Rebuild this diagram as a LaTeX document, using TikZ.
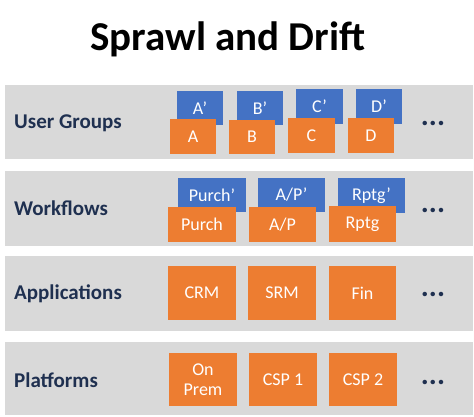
\documentclass[tikz,border=0pt]{standalone}
\usepackage{fontspec}
\setmainfont{Carlito}
\definecolor{band}{HTML}{D9D9D9}
\definecolor{bblue}{HTML}{4472C4}
\definecolor{borange}{HTML}{ED7D31}
\definecolor{navy}{HTML}{1F3050}
\begin{document}
\begin{tikzpicture}[x=1pt,y=-1pt,
  bandbox/.style={fill=band,draw=none},
  lbl/.style={anchor=west,inner sep=0pt,text=navy,font=\fontsize{21}{23}\selectfont\bfseries},
  bluebox/.style={fill=bblue,draw=none,text=white,font=\fontsize{18}{19}\selectfont,inner sep=0pt},
  orabox/.style={fill=borange,draw=none,text=white,font=\fontsize{18}{20}\selectfont,inner sep=0pt,align=center},
  dots/.style={text=navy,font=\fontsize{30}{30}\selectfont\bfseries,inner sep=0pt,anchor=base}
]
\useasboundingbox (0,0) rectangle (474,417);
\fill[white] (0,0) rectangle (474,417);
\node[font=\fontsize{41}{44}\selectfont\bfseries,inner sep=0pt] (title) at (228,39) {Sprawl and Drift};

% bands
\fill[bandbox] (5,85) rectangle (473,159);
\fill[bandbox] (5,171) rectangle (473,246);
\fill[bandbox] (5,256) rectangle (473,331);
\fill[bandbox] (5,342) rectangle (473,415);

\node[lbl] (l1) at (14,123) {User Groups};
\node[lbl] (l2) at (14,208) {Workflows};
\node[lbl] (l3) at (14,294) {Applications};
\node[lbl] (l4) at (14,380) {Platforms};

\newcommand{\mybox}[6]{\path[#1] (#2,#3) rectangle (#4,#5) node[pos=.5,#1,fill=none] {#6};}
% User groups
\mybox{bluebox}{177}{91}{223}{125}{A\char"2019}
\mybox{bluebox}{237}{91}{283}{125}{B\char"2019}
\mybox{bluebox}{296}{89}{343}{124}{C\char"2019}
\mybox{bluebox}{356}{89}{402}{124}{D\char"2019}
\mybox{orabox}{170}{119}{216}{154}{A}
\mybox{orabox}{229}{120}{275}{154}{B}
\mybox{orabox}{288}{118}{335}{153}{C}
\mybox{orabox}{348}{118}{394}{153}{D}
\node[dots] (d1) at (433,126) {...};

% Workflows
\mybox{bluebox}{178}{178}{246}{212}{Purch\char"2019}
\mybox{bluebox}{258}{178}{325}{212}{A/P\char"2019}
\mybox{bluebox}{338}{178}{405}{213}{Rptg\char"2019}
\mybox{orabox}{168}{207}{236}{242}{Purch}
\mybox{orabox}{249}{207}{316}{242}{A/P}
\mybox{orabox}{329}{206}{396}{242}{Rptg}
\node[dots] (d2) at (433,212) {...};

% Applications
\mybox{orabox}{168}{266}{236}{320}{CRM}
\mybox{orabox}{248}{266}{316}{320}{SRM}
\mybox{orabox}{329}{266}{396}{320}{Fin}
\node[dots] (d3) at (433,296) {...};

% Platforms
\mybox{orabox}{169}{353}{237}{406}{On\\Prem}
\mybox{orabox}{249}{353}{317}{406}{CSP 1}
\mybox{orabox}{329}{353}{397}{406}{CSP 2}
\node[dots] (d4) at (433,384) {...};
\end{tikzpicture}
\end{document}
